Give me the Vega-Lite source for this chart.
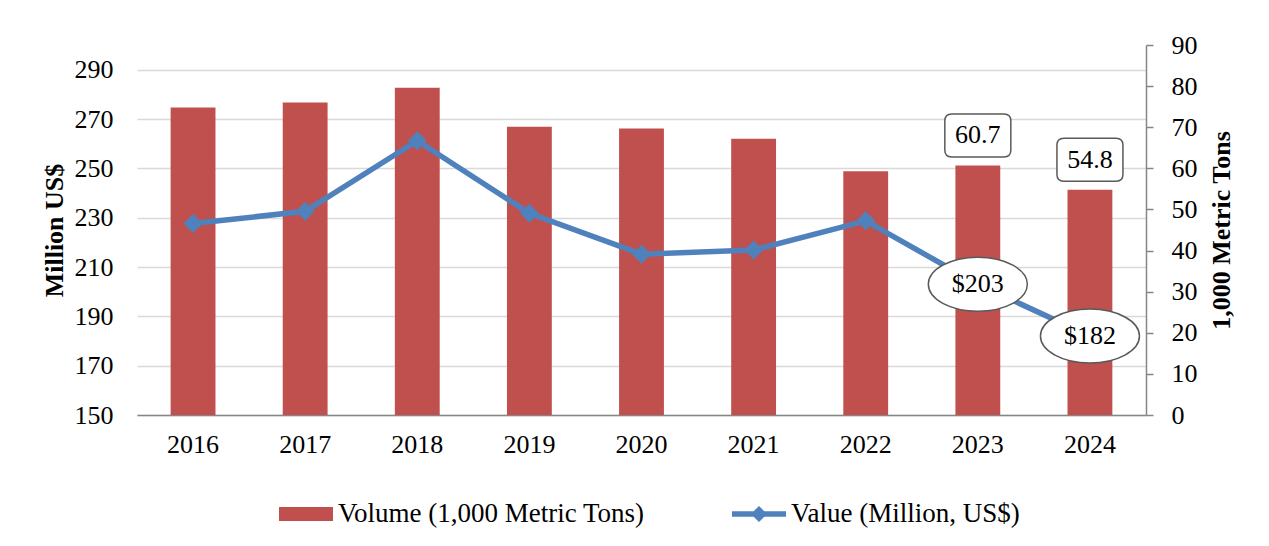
{
  "$schema": "https://vega.github.io/schema/vega-lite/v6.json",
  "width": 1009,
  "height": 370,
  "autosize": "none",
  "padding": {"left": 137, "top": 45, "right": 123, "bottom": 131},
  "background": "white",
  "config": {
    "font": "Liberation Serif",
    "view": {"stroke": null},
    "axis": {"labelColor": "black", "titleColor": "black", "labelFontSize": 26, "titleFontSize": 26, "titleFontWeight": "bold", "labelFont": "Liberation Serif", "titleFont": "Liberation Serif"}
  },
  "data": {
    "values": [
      {"year": "2016", "volume": 74.8, "value": 227.6, "vlabel": null, "plabel": null},
      {"year": "2017", "volume": 76.0, "value": 232.6, "vlabel": null, "plabel": null},
      {"year": "2018", "volume": 79.6, "value": 261.2, "vlabel": null, "plabel": null},
      {"year": "2019", "volume": 70.1, "value": 231.8, "vlabel": null, "plabel": null},
      {"year": "2020", "volume": 69.7, "value": 215.2, "vlabel": null, "plabel": null},
      {"year": "2021", "volume": 67.2, "value": 216.9, "vlabel": null, "plabel": null},
      {"year": "2022", "volume": 59.3, "value": 228.7, "vlabel": null, "plabel": null},
      {"year": "2023", "volume": 60.7, "value": 203, "vlabel": "60.7", "plabel": "$203"},
      {"year": "2024", "volume": 54.8, "value": 182, "vlabel": "54.8", "plabel": "$182"}
    ]
  },
  "encoding": {
    "x": {
      "field": "year", "type": "ordinal",
      "scale": {"paddingInner": 0.6, "paddingOuter": 0.3},
      "axis": {"title": null, "labelAngle": 0, "ticks": false, "tickSize": 0, "labelPadding": 16, "domainColor": "#868686", "domainWidth": 1.5, "grid": false}
    }
  },
  "layer": [
    {
      "encoding": {
        "y": {
          "field": "volume", "type": "quantitative",
          "scale": {"domain": [0, 90], "nice": false, "zero": true},
          "axis": {"orient": "right", "title": "1,000 Metric Tons", "values": [0, 10, 20, 30, 40, 50, 60, 70, 80, 90], "grid": false, "domainColor": "#868686", "domainWidth": 1.5, "tickColor": "#868686", "tickWidth": 1.5, "tickSize": 7, "labelPadding": 18, "titleAngle": 270, "titleBaseline": "alphabetic", "titlePadding": 32}
        }
      },
      "layer": [
        {
          "mark": {"type": "bar", "color": "#C0504D"},
          "encoding": {
            "color": {
              "datum": "Volume (1,000 Metric Tons)", "type": "nominal",
              "scale": {"domain": ["Volume (1,000 Metric Tons)", "Value (Million, US$)"], "range": ["#C0504D", "#4F81BD"]},
              "legend": {
                "title": null, "orient": "none", "legendX": 142, "legendY": 442, "direction": "horizontal",
                "labelFontSize": 27, "labelFont": "Liberation Serif", "labelColor": "black", "labelLimit": 0,
                "symbolSize": 2916, "labelOffset": 5, "columnPadding": 87, "padding": 0,
                "symbolStrokeWidth": 0, "symbolOpacity": 1,
                "encode": {
                  "symbols": {
                    "update": {
                      "shape": {"signal": "datum.value === 'Value (Million, US$)' ? 'M-1,-0.1H1V0.1H-1Z M0,-0.3L0.3,0L0,0.3L-0.3,0Z' : 'M-1,-0.26H1V0.26H-1Z'"},
                      "fill": {"signal": "scale('color', datum.value)"},
                      "strokeWidth": {"value": 0},
                      "opacity": {"value": 1}
                    }
                  }
                }
              }
            }
          }
        },
        {
          "transform": [{"filter": "datum.vlabel != null"}],
          "mark": {"type": "point", "shape": "M-0.79,-0.65H0.79Q1,-0.65 1,-0.44V0.44Q1,0.65 0.79,0.65H-0.79Q-1,0.65 -1,0.44V-0.44Q-1,-0.65 -0.79,-0.65Z", "size": 4356, "filled": true, "fill": "white", "stroke": "#595959", "strokeWidth": 1.5, "opacity": 1, "yOffset": -30}
        },
        {
          "transform": [{"filter": "datum.vlabel != null"}],
          "mark": {"type": "text", "fontSize": 26, "font": "Liberation Serif", "color": "black", "baseline": "middle", "align": "center", "yOffset": -30},
          "encoding": {
            "text": {"field": "vlabel"}
          }
        }
      ]
    },
    {
      "encoding": {
        "y": {
          "field": "value", "type": "quantitative",
          "scale": {"domain": [150, 300], "nice": false, "zero": false},
          "axis": {"orient": "left", "title": "Million US$", "values": [150, 170, 190, 210, 230, 250, 270, 290], "grid": true, "gridColor": "#D9D9D9", "gridWidth": 1.5, "domain": false, "ticks": false, "tickSize": 0, "labelPadding": 24, "titleBaseline": "alphabetic", "titlePadding": 12}
        }
      },
      "layer": [
        {
          "mark": {"type": "line", "strokeWidth": 5.5, "point": {"shape": "diamond", "size": 361, "filled": true, "opacity": 1}},
          "encoding": {
            "color": {"datum": "Value (Million, US$)", "type": "nominal"}
          }
        },
        {
          "transform": [{"filter": "datum.plabel != null"}],
          "mark": {"type": "point", "shape": "M-1,0A1,0.545 0 1 1 1,0A1,0.545 0 1 1 -1,0Z", "size": 9801, "filled": true, "fill": "white", "stroke": "#595959", "strokeWidth": 1.5, "opacity": 1}
        },
        {
          "transform": [{"filter": "datum.plabel != null"}],
          "mark": {"type": "text", "fontSize": 26, "font": "Liberation Serif", "color": "black", "baseline": "middle", "align": "center"},
          "encoding": {
            "text": {"field": "plabel"}
          }
        }
      ]
    }
  ],
  "resolve": {"scale": {"y": "independent"}}
}
